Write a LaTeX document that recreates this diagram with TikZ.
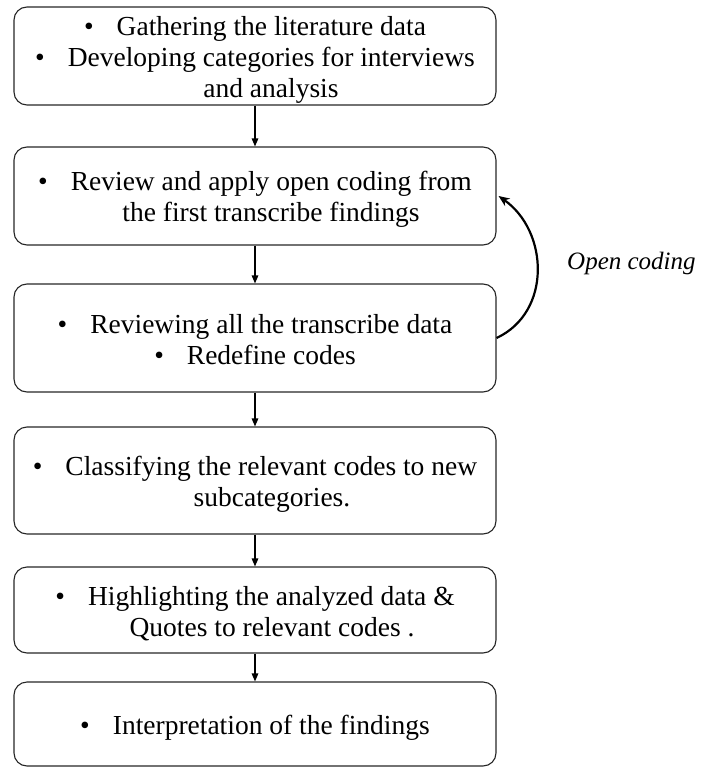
\documentclass[tikz,border=0pt]{standalone}
\usepackage{fontspec}
\setmainfont{Liberation Serif}
\usetikzlibrary{arrows.meta}
\newcommand{\bul}{\textbullet\hspace{23pt}}
\newcommand{\topstrut}[1]{\rule{0pt}{#1}}
\begin{document}
\begin{tikzpicture}[x=1pt,y=1pt,
  stagebox/.style={draw=black!85, line width=1.1pt, rounded corners=13pt,
    minimum width=482pt, align=center, inner sep=0pt,
    font=\fontsize{27.5}{31}\selectfont},
  flow/.style={line width=1.3pt, -{Triangle[length=8pt,width=6.5pt]}},
  loopback/.style={line width=2.2pt, -{Stealth[length=11pt,width=9pt]}}]
\useasboundingbox (0,0) rectangle (701,-767);

\node[stagebox, minimum height=98pt]  (b1) at (255,-56)
  {\topstrut{27pt}\bul Gathering the literature data\\
   \bul Developing categories for interviews\\
   \hspace*{32pt}and analysis};
\node[stagebox, minimum height=98pt]  (b2) at (255,-196)
  {\topstrut{26pt}\bul Review and apply open coding from\\
   \hspace*{32pt}the first transcribe findings};
\node[stagebox, minimum height=108pt] (b3) at (255,-338)
  {\topstrut{22pt}\bul Reviewing all the transcribe data\\
   \bul Redefine codes};
\node[stagebox, minimum height=107pt] (b4) at (255,-480.5)
  {\topstrut{27pt}\bul Classifying the relevant codes to new\\
   \hspace*{34pt}subcategories.};
\node[stagebox, minimum height=86pt]  (b5) at (255,-610)
  {\topstrut{27pt}\bul Highlighting the analyzed data \&\\
   \hspace*{34pt}Quotes to relevant codes .};
\node[stagebox, minimum height=84pt]  (b6) at (255,-724)
  {\topstrut{27pt}\bul Interpretation of the findings};

\draw[flow] (b1) -- (b2);
\draw[flow] (b2) -- (b3);
\draw[flow] (b3) -- (b4);
\draw[flow] (b4) -- (b5);
\draw[flow] (b5) -- (b6);

\draw[loopback] (b3.east) to[out=25, in=-35, looseness=1.1] ([xshift=2pt]b2.east);
\node[anchor=west, inner sep=0pt, font=\fontsize{25}{29}\selectfont\itshape] (oc) at (567,-263) {Open coding};
\end{tikzpicture}
\end{document}
